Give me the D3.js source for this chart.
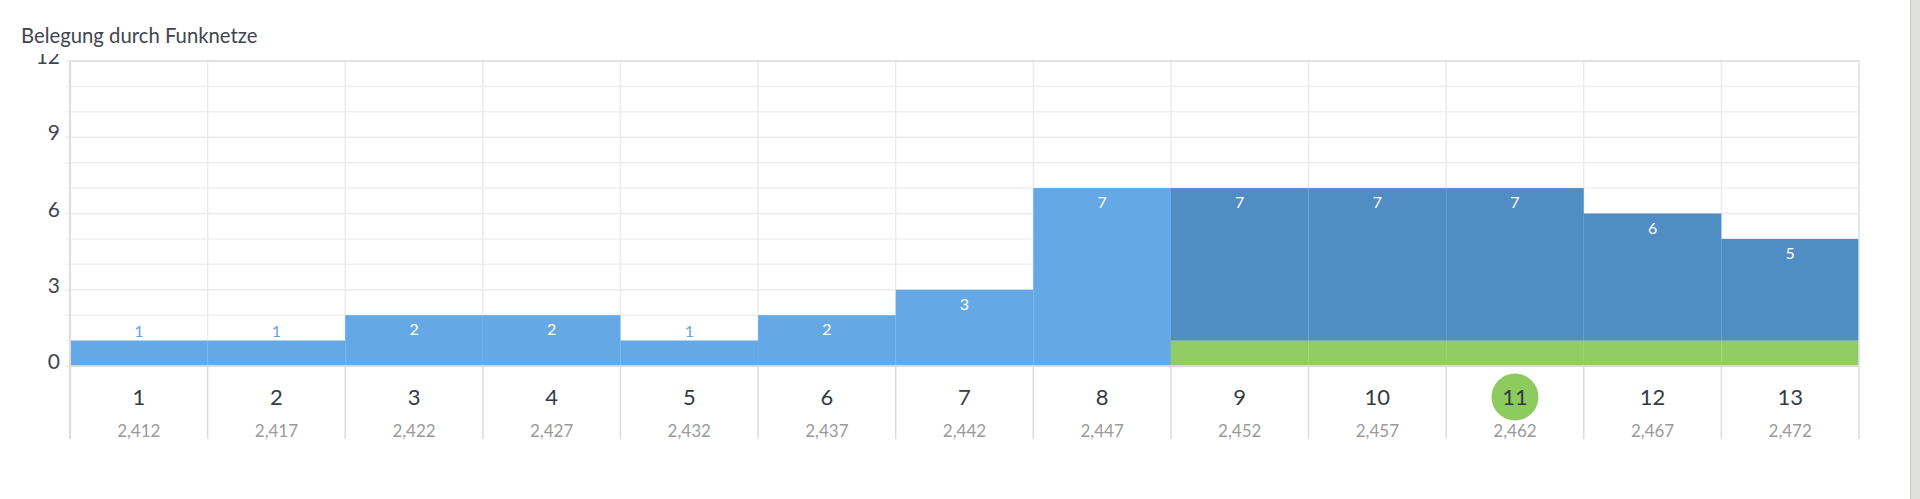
<!DOCTYPE html>
<html>
<head>
<meta charset="utf-8">
<script src="https://cdn.jsdelivr.net/npm/d3@7"></script>
<style>
  html, body { margin: 0; padding: 0; background: #fff; overflow: hidden; }
  body { width: 1920px; height: 499px; position: relative; font-family: "Source Sans Pro", "Lato", "Open Sans", sans-serif; }
  #scroll { position: absolute; left: 1910px; top: 0; width: 10px; height: 499px; background: #e2e0db; border-left: 1px solid #c9c7c2; }
</style>
</head>
<body>
<div id="chart"></div>
<div id="scroll"></div>
<script>
// channel data
const channels = [1, 2, 3, 4, 5, 6, 7, 8, 9, 10, 11, 12, 13];
const frequencies = [2412, 2417, 2422, 2427, 2432, 2437, 2442, 2447, 2452, 2457, 2462, 2467, 2472];
const totals = [1, 1, 2, 2, 1, 2, 3, 7, 7, 7, 7, 6, 5];
const ownNetwork = [0, 0, 0, 0, 0, 0, 0, 0, 1, 1, 1, 1, 1];
const yTicks = [0, 3, 6, 9, 12];
const ownChannel = 11;

const W = 1920, H = 499;
const margin = { top: 61, right: 61, bottom: 133, left: 70 };

const svg = d3.select("#chart").append("svg")
  .attr("width", W)
  .attr("height", H);

const x = d3.scaleBand()
  .domain(channels)
  .range([margin.left, W - margin.right])
  .padding(0);

const y = d3.scaleLinear()
  .domain([0, 12])
  .range([H - margin.bottom, margin.top]);

const rows = channels.map((c, i) => ({
  channel: c,
  freq: frequencies[i],
  own: ownNetwork[i],
  other: totals[i] - ownNetwork[i],
  total: totals[i]
}));

// gridlines (every unit)
svg.append("g")
  .selectAll("line")
  .data(d3.range(0, 13))
  .join("line")
  .attr("x1", margin.left - 4)
  .attr("x2", W - margin.right)
  .attr("y1", d => y(d))
  .attr("y2", d => y(d))
  .attr("stroke", d => d % 3 === 0 ? "#ebebeb" : "#f0f0f0")
  .attr("stroke-width", 1.5);

// vertical column lines
const bounds = channels.map(c => x(c)).concat([W - margin.right]);
svg.append("g")
  .selectAll("line")
  .data(bounds)
  .join("line")
  .attr("x1", d => d).attr("x2", d => d)
  .attr("y1", margin.top)
  .attr("y2", H - margin.bottom)
  .attr("stroke", "#ececec")
  .attr("stroke-width", 1.5);

// ticks below the axis
svg.append("g")
  .selectAll("line")
  .data(bounds)
  .join("line")
  .attr("x1", d => d).attr("x2", d => d)
  .attr("y1", H - margin.bottom)
  .attr("y2", 439)
  .attr("stroke", "#dcdcdc")
  .attr("stroke-width", 1.5);

// stacked bars
const stack = d3.stack().keys(["own", "other"]);
const series = stack(rows);

const colour = (key, d) => {
  if (key === "own") return "#8dcb5e";
  return d.data.own > 0 ? "#4a88c3" : "#5ea6e4";
};

svg.append("g")
  .selectAll("g")
  .data(series)
  .join("g")
  .each(function (s) {
    d3.select(this).selectAll("rect")
      .data(s.filter(d => d[1] > d[0]))
      .join("rect")
      .attr("x", d => x(d.data.channel))
      .attr("width", x.bandwidth())
      .attr("y", d => y(d[1]))
      .attr("height", d => y(d[0]) - y(d[1]))
      .attr("fill", d => colour(s.key, d))
      .attr("fill-opacity", 0.96);
  });

// plot frame
svg.append("line")
  .attr("x1", margin.left).attr("x2", W - margin.right)
  .attr("y1", margin.top).attr("y2", margin.top)
  .attr("stroke", "#e2e2e2").attr("stroke-width", 2);
svg.append("line")
  .attr("x1", W - margin.right).attr("x2", W - margin.right)
  .attr("y1", margin.top).attr("y2", H - margin.bottom)
  .attr("stroke", "#e2e2e2").attr("stroke-width", 1.5);
svg.append("line")
  .attr("x1", margin.left).attr("x2", margin.left)
  .attr("y1", margin.top).attr("y2", 439)
  .attr("stroke", "#dcdcdc").attr("stroke-width", 2);
svg.append("line")
  .attr("x1", margin.left).attr("x2", W - margin.right)
  .attr("y1", y(0)).attr("y2", y(0))
  .attr("stroke", "#d9d9d9").attr("stroke-width", 2);

// value labels
svg.append("g")
  .selectAll("text")
  .data(rows)
  .join("text")
  .attr("x", d => x(d.channel) + x.bandwidth() / 2)
  .attr("y", d => d.total > 1 ? y(d.total) + 20 : y(d.total) - 4)
  .attr("text-anchor", "middle")
  .attr("font-size", 16)
  .attr("fill", d => d.total > 1 ? "#fff" : "#5ea6e4")
  .text(d => d.total);

// y axis labels (clipped at the top like the original)
svg.append("clipPath").attr("id", "yclip")
  .append("rect").attr("x", 0).attr("y", 54).attr("width", margin.left).attr("height", H);

svg.append("g")
  .attr("clip-path", "url(#yclip)")
  .selectAll("text")
  .data(yTicks)
  .join("text")
  .attr("x", 60)
  .attr("y", d => y(d) + 3)
  .attr("text-anchor", "end")
  .attr("font-size", 21)
  .attr("fill", "#3f4550")
  .text(d => d);

// own channel marker
svg.append("circle")
  .attr("cx", x(ownChannel) + x.bandwidth() / 2)
  .attr("cy", 397)
  .attr("r", 23.5)
  .attr("fill", "#8dcb5e");

// channel labels
svg.append("g")
  .selectAll("text")
  .data(rows)
  .join("text")
  .attr("x", d => x(d.channel) + x.bandwidth() / 2)
  .attr("y", 397)
  .attr("dy", "0.36em")
  .attr("text-anchor", "middle")
  .attr("font-size", 22)
  .attr("fill", "#333a46")
  .text(d => d.channel);

// frequency labels
svg.append("g")
  .selectAll("text")
  .data(rows)
  .join("text")
  .attr("x", d => x(d.channel) + x.bandwidth() / 2)
  .attr("y", 431)
  .attr("dy", "0.36em")
  .attr("text-anchor", "middle")
  .attr("font-size", 17)
  .attr("fill", "#9a9a9a")
  .text(d => d3.format(",")(d.freq));

// title
svg.append("text")
  .attr("x", 21)
  .attr("y", 43)
  .attr("font-size", 20.3)
  .attr("fill", "#3f4550")
  .text("Belegung durch Funknetze");
</script>
</body>
</html>
